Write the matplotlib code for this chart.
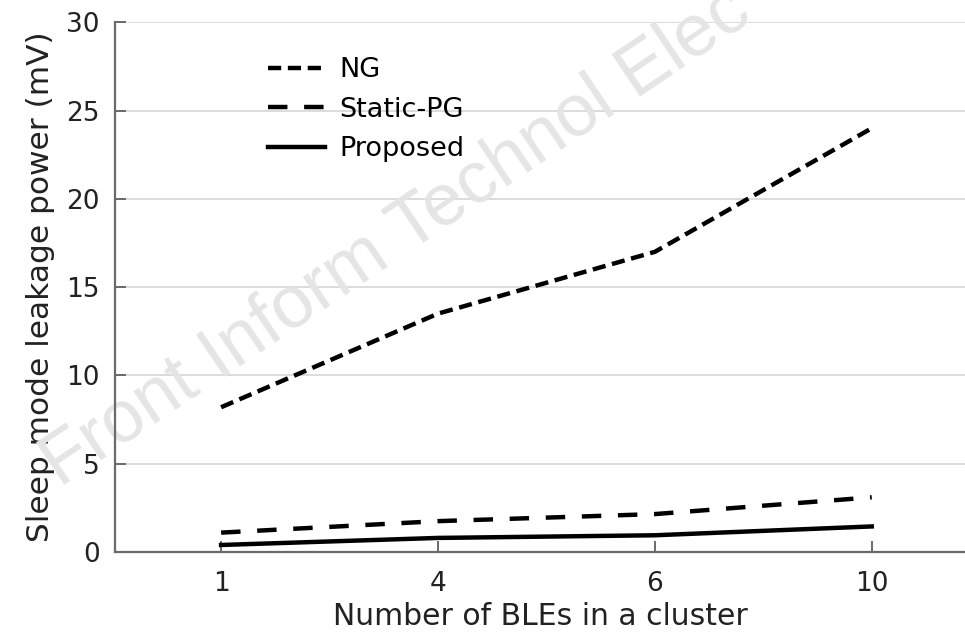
import matplotlib
matplotlib.use("Agg")
import matplotlib.pyplot as plt

# values
ble_counts = ["1", "4", "6", "10"]
ng_power = [8.2, 13.5, 17.0, 24.0]
static_pg_power = [1.1, 1.75, 2.15, 3.1]
proposed_power = [0.4, 0.8, 0.95, 1.45]

plt.rcParams['font.family'] = ['DejaVu Sans']
plt.rcParams['lines.scale_dashes'] = False

fig = plt.figure(figsize=(9.65, 6.36), dpi=100)
ax = fig.add_axes([0.119, 0.132, 0.881, 0.833])

xpos = range(len(ble_counts))
ax.plot(xpos, ng_power, color='black', lw=3.2, dashes=(9.5, 4.8),
        solid_capstyle='butt', dash_capstyle='butt', label='NG', zorder=3)
ax.plot(xpos, static_pg_power, color='black', lw=3.2, dashes=(14, 12),
        dash_capstyle='butt', label='Static-PG', zorder=3)
ax.plot(xpos, proposed_power, color='black', lw=3.2, label='Proposed', zorder=3)

ax.set_xlim(-0.49, 3.43)
ax.set_ylim(0, 30)
ax.set_yticks([0, 5, 10, 15, 20, 25, 30])
ax.set_xticks(list(xpos))
ax.set_xticklabels(ble_counts)

ax.yaxis.grid(True, color='#dcdcdc', lw=1.4)
ax.set_axisbelow(True)

for side in ['top', 'right']:
    ax.spines[side].set_visible(False)
for side in ['left', 'bottom']:
    ax.spines[side].set_color('#6a6a6a')
    ax.spines[side].set_linewidth(1.6)

ax.tick_params(axis='both', direction='in', length=8, width=1.4,
               color='#6a6a6a', labelsize=19, labelcolor='#222222')
ax.tick_params(axis='x', pad=14)
ax.tick_params(axis='y', pad=11)

ax.set_xlabel("Number of BLEs in a cluster", fontsize=21.5, color='#222222', labelpad=3)
ax.set_ylabel("Sleep mode leakage power (mV)", fontsize=22.5, color='#222222', labelpad=8)

ax.legend(loc='upper left', bbox_to_anchor=(0.18, 0.934), frameon=False,
          fontsize=19.5, handlelength=2.1, handletextpad=0.55,
          labelspacing=0.5, borderpad=0, borderaxespad=0)

# publisher watermark (cut off at the top edge, as in the source)
ax.text(0.062, 0.234, "Front Inform Technol Elec", transform=fig.transFigure,
        rotation=34, rotation_mode='anchor', ha='left', va='baseline',
        fontsize=53, family=['Liberation Sans', 'DejaVu Sans'],
        color='#e5e5e5', zorder=1.5, clip_on=False)

fig.savefig("out.png", dpi=100)
